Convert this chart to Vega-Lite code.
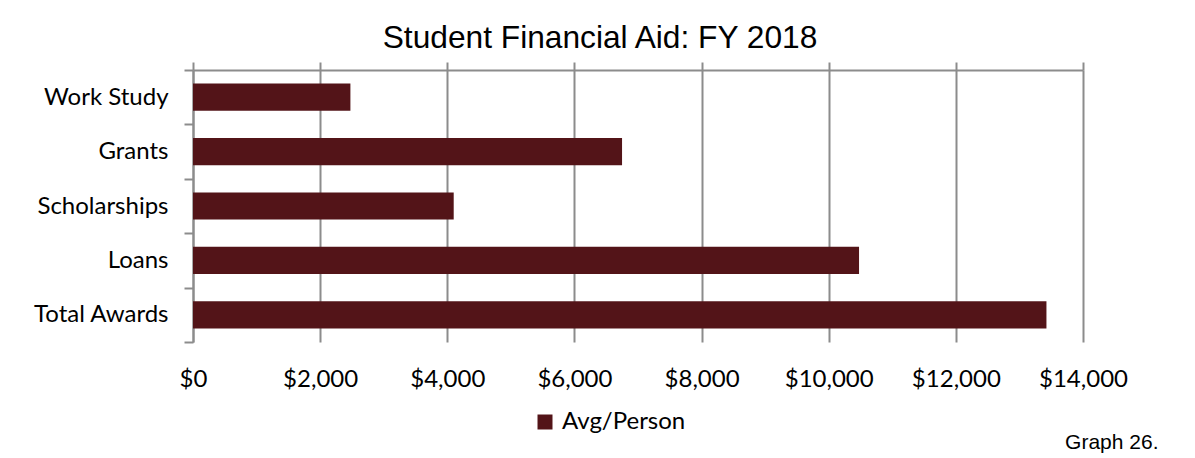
{
  "$schema": "https://vega.github.io/schema/vega-lite/v6.json",
  "width": 890,
  "height": 272,
  "autosize": {"type": "none"},
  "padding": {"left": 193, "top": 70, "right": 112, "bottom": 116},
  "background": "white",
  "title": {
    "text": "Student Financial Aid: FY 2018",
    "font": "Liberation Sans",
    "fontSize": 31.7,
    "fontWeight": "normal",
    "color": "#000000",
    "anchor": "middle",
    "dx": -38,
    "baseline": "alphabetic",
    "offset": -22
  },
  "data": {
    "values": [
      {"category": "Work Study", "value": 2476, "series": "Avg/Person"},
      {"category": "Grants", "value": 6749, "series": "Avg/Person"},
      {"category": "Scholarships", "value": 4101, "series": "Avg/Person"},
      {"category": "Loans", "value": 10477, "series": "Avg/Person"},
      {"category": "Total Awards", "value": 13425, "series": "Avg/Person"}
    ]
  },
  "encoding": {
    "y": {
      "field": "category",
      "type": "nominal",
      "sort": null,
      "scale": {"paddingInner": 0, "paddingOuter": 0},
      "axis": {
        "title": null,
        "labelFont": "Lato",
        "labelFontSize": 24,
        "labelColor": "#000000",
        "labelPadding": 16,
        "tickBand": "extent",
        "tickSize": 9,
        "tickWidth": 2,
        "tickColor": "#8c8c8c",
        "domainColor": "#8c8c8c",
        "domainWidth": 2,
        "grid": false
      }
    }
  },
  "layer": [
    {
      "mark": {"type": "bar", "height": {"band": 0.5}},
      "encoding": {
        "x": {
          "field": "value",
          "type": "quantitative",
          "scale": {"domain": [0, 14000], "nice": false},
          "axis": {
            "orient": "bottom",
            "values": [0, 2000, 4000, 6000, 8000, 10000, 12000, 14000],
            "format": "$,.0f",
            "title": "Graph 26.",
            "titleFont": "Liberation Sans",
            "titleFontSize": 21,
            "titleFontWeight": "normal",
            "titleColor": "#000000",
            "titleAlign": "right",
            "titleBaseline": "alphabetic",
            "titleX": 965,
            "titleY": 106,
            "labelFont": "Lato",
            "labelFontSize": 24,
            "labelColor": "#000000",
            "labelBaseline": "alphabetic",
            "labelPadding": 44,
            "labelFlush": false,
            "labelOverlap": false,
            "ticks": false,
            "domain": false,
            "grid": true,
            "gridColor": "#8c8c8c",
            "gridWidth": 2
          }
        },
        "color": {
          "field": "series",
          "type": "nominal",
          "scale": {"range": ["#531418"]},
          "legend": {
            "title": null,
            "orient": "none",
            "legendX": 340,
            "legendY": 340,
            "padding": 0,
            "symbolType": "square",
            "symbolSize": 225,
            "symbolStrokeWidth": 0,
            "symbolOpacity": 1,
            "labelFont": "Lato",
            "labelFontSize": 24,
            "labelColor": "#000000",
            "labelOffset": 5
          }
        }
      }
    },
    {
      "mark": {"type": "bar", "height": {"band": 0.5}, "opacity": 0},
      "encoding": {
        "x": {
          "field": "value",
          "type": "quantitative",
          "scale": {"domain": [0, 14000], "nice": false},
          "axis": {
            "orient": "top",
            "values": [0, 2000, 4000, 6000, 8000, 10000, 12000, 14000],
            "title": null,
            "labels": false,
            "ticks": true,
            "tickSize": 8,
            "tickWidth": 2,
            "tickColor": "#8c8c8c",
            "domain": true,
            "domainColor": "#8c8c8c",
            "domainWidth": 2,
            "grid": false
          }
        }
      }
    }
  ],
  "resolve": {"axis": {"x": "independent"}},
  "config": {
    "view": {"stroke": null}
  }
}
